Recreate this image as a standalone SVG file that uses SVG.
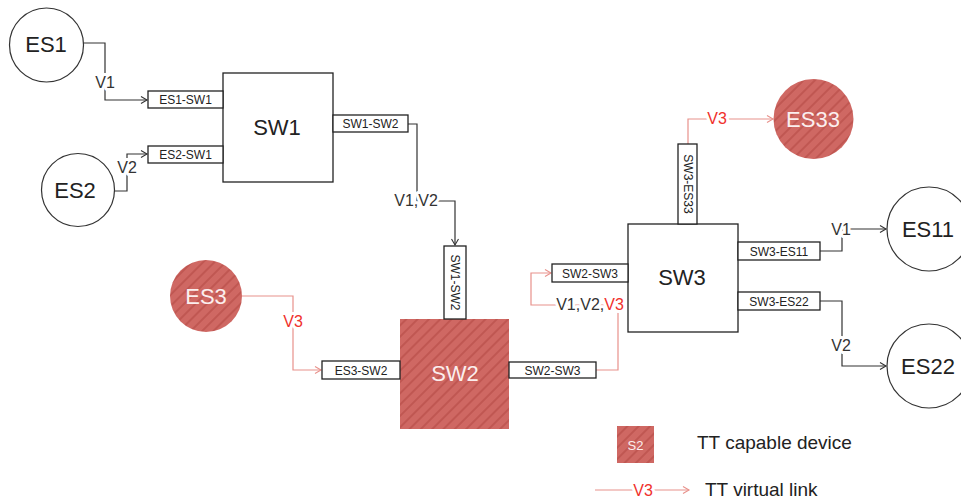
<svg xmlns="http://www.w3.org/2000/svg" width="961" height="502" viewBox="0 0 961 502">
<defs>
<pattern id="hatch" patternUnits="userSpaceOnUse" width="8" height="8" patternTransform="rotate(45)">
<rect width="8" height="8" fill="#cf6863"/>
<line x1="1" y1="0" x2="1" y2="8" stroke="#bd524d" stroke-width="1.6"/>
</pattern>
<marker id="ad" markerWidth="10" markerHeight="10" refX="8" refY="5" orient="auto" markerUnits="userSpaceOnUse">
<path d="M2,1.5 L8,5 L2,8.5" fill="none" stroke="#333" stroke-width="1.1"/>
</marker>
<marker id="ar" markerWidth="10" markerHeight="10" refX="8" refY="5" orient="auto" markerUnits="userSpaceOnUse">
<path d="M2,1.5 L8,5 L2,8.5" fill="none" stroke="#e8918b" stroke-width="1.1"/>
</marker>
</defs>
<style>
text{font-family:"Liberation Sans",Arial,sans-serif;}
.es{fill:#fff;stroke:#333;stroke-width:1.2;}
.tt{fill:url(#hatch);stroke:none;}
.sw{fill:#fff;stroke:#222;stroke-width:1.3;}
.port{fill:#fff;stroke:#222;stroke-width:1.3;}
.big{font-size:22px;fill:#222;text-anchor:middle;}
.bigw{font-size:22px;fill:#fbeeee;text-anchor:middle;}
.pl{font-size:12px;fill:#222;text-anchor:middle;}
.c{fill:none;stroke:#333;stroke-width:1.2;}
.cr{fill:none;stroke:#e8918b;stroke-width:1.2;}
.lb{font-size:16px;fill:#333;text-anchor:middle;stroke:#fff;stroke-width:6;paint-order:stroke;stroke-linejoin:round;}
.lr{font-size:16px;fill:#f0302c;text-anchor:middle;stroke:#fff;stroke-width:6;paint-order:stroke;stroke-linejoin:round;}
.leg{font-size:19px;fill:#222;}
</style>
<g id="connectors">
<path class="c" d="M83,43 H105 V100 H147" marker-end="url(#ad)"/>
<text class="lb" x="105" y="88">V1</text>
<path class="c" d="M114,191 H127 V154 H147" marker-end="url(#ad)"/>
<text class="lb" x="127" y="173">V2</text>
<path class="c" d="M408,124 H417 V201 H455 V245" marker-end="url(#ad)"/>
<text class="lb" x="416" y="206">V1,V2</text>
<path class="cr" d="M242,296 H293 V370 H321" marker-end="url(#ar)"/>
<text class="lr" x="293" y="327">V3</text>
<path class="cr" d="M596,370 H618 V305 H531 V273 H551" marker-end="url(#ar)"/>
<text class="lb" x="590" y="310"><tspan>V1,V2,</tspan><tspan fill="#f0302c">V3</tspan></text>
<path class="cr" d="M688,144 V119 H773" marker-end="url(#ar)"/>
<text class="lr" x="717" y="124">V3</text>
<path class="c" d="M820,251 H842 V229 H886" marker-end="url(#ad)"/>
<text class="lb" x="841" y="235">V1</text>
<path class="c" d="M820,301 H842 V366 H886" marker-end="url(#ad)"/>
<text class="lb" x="841" y="351">V2</text>
</g>
<g id="ES1">
<circle class="es" cx="46.5" cy="45" r="37"/>
<text class="big" x="46" y="52">ES1</text>
</g>
<g id="ES2">
<circle class="es" cx="78" cy="190" r="36.5"/>
<text class="big" x="75" y="198">ES2</text>
</g>
<g id="ES3">
<circle class="tt" cx="206" cy="296" r="36"/>
<text class="bigw" x="206" y="304">ES3</text>
</g>
<g id="SW1">
<rect class="sw" x="223" y="73" width="110" height="109"/>
<text class="big" x="277" y="135">SW1</text>
<rect class="port" x="148" y="91" width="75" height="17"/>
<text class="pl" x="185.5" y="104">ES1-SW1</text>
<rect class="port" x="148" y="146" width="75" height="17"/>
<text class="pl" x="185.5" y="159">ES2-SW1</text>
<rect class="port" x="333" y="115" width="75" height="17"/>
<text class="pl" x="370.5" y="128">SW1-SW2</text>
</g>
<g id="SW2">
<rect class="tt" x="400" y="319" width="109" height="110"/>
<text class="bigw" x="455" y="381">SW2</text>
<rect class="port" x="444" y="246" width="22" height="73"/>
<text class="pl" transform="translate(451,282.5) rotate(90)" x="0" y="0">SW1-SW2</text>
<rect class="port" x="322" y="361" width="78" height="18"/>
<text class="pl" x="361" y="374.5">ES3-SW2</text>
<rect class="port" x="509" y="362" width="87" height="16"/>
<text class="pl" x="552.5" y="374.5">SW2-SW3</text>
</g>
<g id="SW3">
<rect class="sw" x="628" y="224" width="110" height="108"/>
<text class="big" x="682" y="285">SW3</text>
<rect class="port" x="552" y="264" width="76" height="18"/>
<text class="pl" x="590" y="277.5">SW2-SW3</text>
<rect class="port" x="678" y="144" width="19" height="80"/>
<text class="pl" transform="translate(683.5,184) rotate(90)" x="0" y="0">SW3-ES33</text>
<rect class="port" x="738" y="242" width="82" height="18"/>
<text class="pl" x="779" y="255.5">SW3-ES11</text>
<rect class="port" x="738" y="292" width="82" height="18"/>
<text class="pl" x="779" y="305.5">SW3-ES22</text>
</g>
<g id="ES33">
<circle class="tt" cx="813.5" cy="119" r="40"/>
<text class="bigw" x="813" y="127">ES33</text>
</g>
<g id="ES11">
<circle class="es" cx="929" cy="229" r="42"/>
<text class="big" x="928" y="237">ES11</text>
</g>
<g id="ES22">
<circle class="es" cx="929" cy="366" r="42"/>
<text class="big" x="928" y="374">ES22</text>
</g>
<g id="legend">
<rect class="tt" x="617" y="426" width="37" height="37"/>
<text x="635.5" y="449.5" style="font-size:13px;fill:#fbeeee;text-anchor:middle;">S2</text>
<text class="leg" x="697" y="449">TT capable device</text>
<path class="cr" d="M595,490 H689" marker-end="url(#ar)"/>
<text class="lr" x="643" y="496">V3</text>
<text class="leg" x="705" y="496">TT virtual link</text>
</g>
</svg>
